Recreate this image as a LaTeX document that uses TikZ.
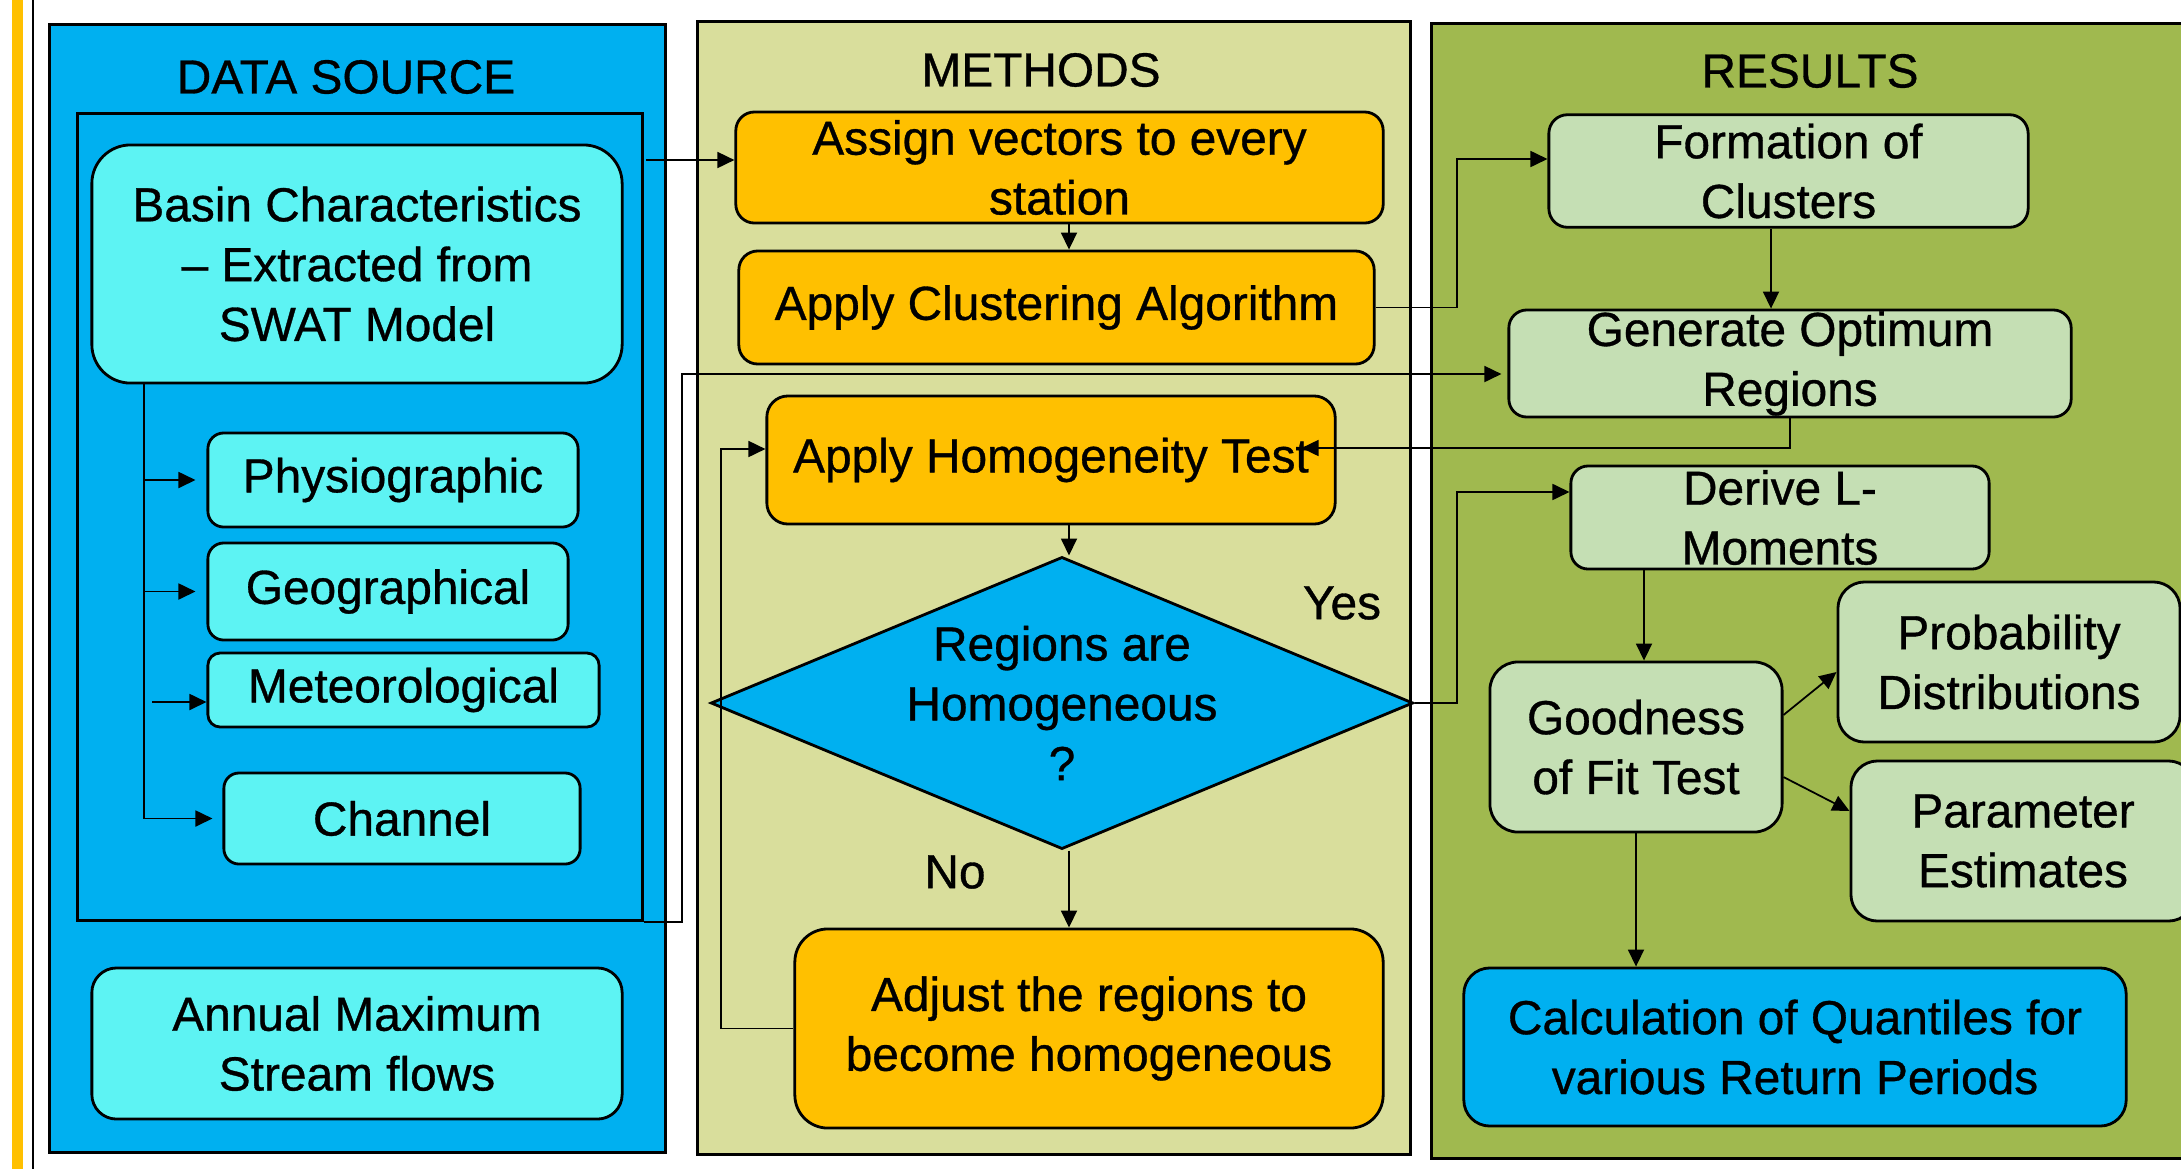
\documentclass[tikz,border=0pt]{standalone}
\usepackage{fontspec}
\setmainfont[FakeBold=0.7]{Liberation Sans}
\usetikzlibrary{shapes.geometric,arrows.meta}

\definecolor{dsblue}{HTML}{00B0F0}
\definecolor{dscyan}{HTML}{5DF3F3}
\definecolor{mtfill}{HTML}{D9DE9C}
\definecolor{mtorange}{HTML}{FFC000}
\definecolor{rsgreen}{HTML}{A0B94F}
\definecolor{rslight}{HTML}{C5DFB4}

\tikzset{
  panel/.style={draw=black, line width=0.8pt, inner sep=0pt},
  rbox/.style={draw=black, line width=0.8pt, inner sep=0pt, align=center, rounded corners=#1},
  rbox/.default=5pt,
  srcbox/.style={rbox=#1, fill=dscyan},
  srcbox/.default=5pt,
  procbox/.style={rbox=#1, fill=mtorange},
  procbox/.default=5pt,
  resbox/.style={rbox=#1, fill=rslight},
  resbox/.default=5pt,
  decision/.style={diamond, aspect=2.4, draw=black, line width=0.8pt, fill=dsblue, inner sep=0pt, align=center},
  conn/.style={line width=0.5pt},
  arr/.style={conn, -{Triangle[length=0.17cm,width=0.16cm]}}
}

\begin{document}
\begin{tikzpicture}[x=0.01cm, y=-0.01cm,
    every node/.style={font=\fontsize{13.6}{17}\selectfont}]
  \useasboundingbox (0,0) rectangle (2181,1169);

  \fill[mtorange] (12,0) rectangle (23,1169); % left strip
  \draw[line width=0.6pt] (33,0) -- (33,1169);

  % panels
  \node[panel, fill=dsblue, minimum width=6.15cm, minimum height=11.27cm] (dsrc) at (357.5,588.5) {};
  \node[panel, fill=mtfill, minimum width=7.12cm, minimum height=11.32cm] (mthd) at (1054,588) {};
  \node[panel, fill=rsgreen, minimum width=7.68cm, minimum height=11.34cm] (rslt) at (1816,591) {};

  \node (dstitle) at (346,77) {DATA SOURCE};
  \node (mttitle) at (1041,70) {METHODS};
  \node (rstitle) at (1810,71) {RESULTS};

  % data source
  \node[panel, minimum width=5.64cm, minimum height=8.06cm] (frame) at (360,517) {};
  \node[srcbox=11pt, minimum width=5.30cm, minimum height=2.38cm] (basin) at (357,264) {Basin Characteristics\\\textendash{} Extracted from\\SWAT Model};
  \node[srcbox=4.5pt, minimum width=3.70cm, minimum height=0.94cm] (physio) at (393,480) {Physiographic};
  \node[srcbox=4.5pt, minimum width=3.60cm, minimum height=0.97cm] (geo) at (388,591.5) {Geographical};
  \node[srcbox=3.5pt, minimum width=3.91cm, minimum height=0.74cm] (meteo) at (403.5,690) {Meteorological};
  \node[srcbox=4.3pt, minimum width=3.56cm, minimum height=0.91cm] (chan) at (402,818.5) {Channel};
  \node[srcbox=7pt, minimum width=5.30cm, minimum height=1.51cm] (annual) at (357,1043.5) {Annual Maximum\\Stream flows};

  % methods
  \node[procbox=5.3pt, minimum width=6.47cm, minimum height=1.11cm] (assign) at (1059.5,167.5) {Assign vectors to every\\station};
  \node[procbox=5.4pt, minimum width=6.35cm, minimum height=1.13cm] (clust) at (1056.5,307.5) {Apply Clustering Algorithm};
  \node[procbox=6pt, minimum width=5.68cm, minimum height=1.28cm] (homog) at (1051,460) {Apply Homogeneity Test};
  \node[decision, minimum width=7.02cm, minimum height=2.92cm] (decide) at (1062,703) {Regions are\\Homogeneous\\?};
  \node[procbox=9.4pt, minimum width=5.88cm, minimum height=1.99cm] (adjust) at (1089,1028.5) {Adjust the regions to\\become homogeneous};
  \node (yeslbl) at (1342,603) {Yes};
  \node (nolbl) at (955,872) {No};

  % results
  \node[resbox=5.3pt, minimum width=4.79cm, minimum height=1.125cm] (formn) at (1788.5,171) {Formation of\\Clusters};
  \node[resbox=5.1pt, minimum width=5.62cm, minimum height=1.07cm] (genreg) at (1790,363.5) {Generate Optimum\\Regions};
  \node[resbox=4.9pt, minimum width=4.18cm, minimum height=1.03cm] (lmom) at (1780,517.5) {Derive L-\\Moments};
  \node[resbox=8pt, minimum width=2.92cm, minimum height=1.70cm] (gof) at (1636,747) {Goodness\\of Fit Test};
  \node[resbox=7.6pt, minimum width=3.42cm, minimum height=1.60cm] (probd) at (2009,662) {Probability\\Distributions};
  \node[resbox=7.6pt, minimum width=3.44cm, minimum height=1.60cm] (param) at (2023,841) {Parameter\\Estimates};
  \node[resbox=7.4pt, fill=dsblue, minimum width=6.62cm, minimum height=1.58cm] (quant) at (1795,1047) {Calculation of Quantiles for\\various Return Periods};

  % connectors
  \coordinate (trunk) at (144,0);
  \coordinate (meteotail) at (152,702);
  \coordinate (srcout) at (646,160);
  \coordinate (jogL) at (682,0);
  \coordinate (jogM) at (721,0);
  \coordinate (mcol) at (1069,0);
  \coordinate (jogR) at (1457,0);
  \coordinate (rcol) at (1771,0);
  \coordinate (gcol) at (1644,0);

  \draw[arr, shorten >=0.1cm] (basin.south -| trunk) |- (chan.west);
  \foreach \n in {physio,geo}
    \draw[arr, shorten >=0.11cm] (trunk |- \n.west) -- (\n.west);
  \draw[arr] (meteotail) -- (meteotail -| meteo.west);

  \draw[arr] (srcout) -- (srcout -| assign.west);
  \draw[arr, shorten >=0.06cm] (frame.south east) -- (frame.south east -| jogL) |- ([yshift=-0.105cm]genreg.west);

  \draw[arr] (assign.south -| mcol) -- (clust.north -| mcol);
  \draw[arr] (homog.south -| mcol) -- (decide.north -| mcol);
  \draw[arr] (decide.south -| mcol) -- (adjust.north -| mcol);
  \draw[arr] (adjust.west) -- (adjust.west -| jogM) |- ([yshift=0.11cm]homog.west);

  \draw[arr] (clust.east) -- (clust.east -| jogR) |- ([yshift=0.12cm]formn.west);
  \draw[arr] (formn.south -| rcol) -- (genreg.north -| rcol);
  \draw[arr] (genreg.south) |- ([xshift=-0.35cm,yshift=0.12cm]homog.east);
  \draw[arr] (decide.east) -- (decide.east -| jogR) |- ([yshift=0.255cm]lmom.west); % yes

  \draw[arr] (lmom.south -| gcol) -- (gof.north -| gcol);
  \draw[arr] ([yshift=0.32cm]gof.east) -- ([yshift=-0.1cm]probd.west);
  \draw[arr] ([yshift=-0.3cm]gof.east) -- ([yshift=0.3cm]param.west);
  \draw[arr] (gof.south) -- (gof.south |- quant.north);

\end{tikzpicture}
\end{document}
